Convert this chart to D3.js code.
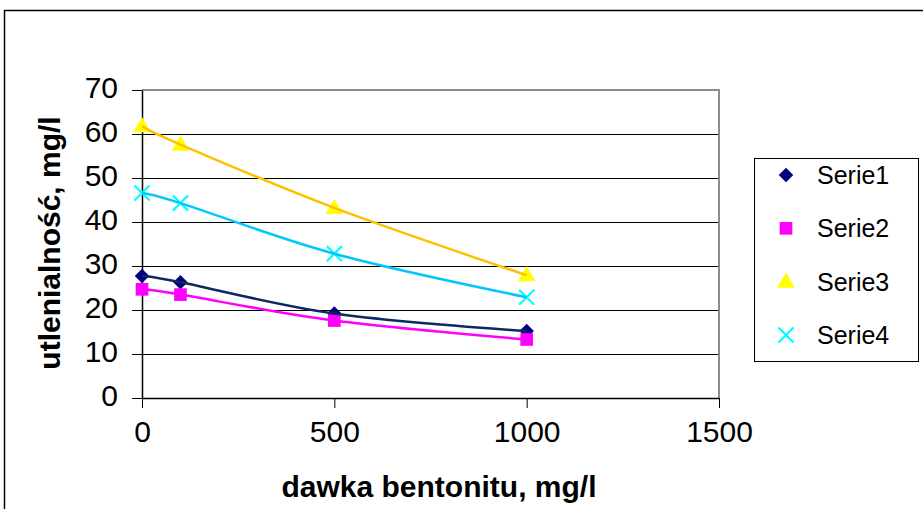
<!DOCTYPE html>
<html>
<head>
<meta charset="utf-8">
<script src="https://cdn.jsdelivr.net/npm/d3@7"></script>
<style>
  html, body { margin: 0; padding: 0; background: #fff; }
  svg { display: block; font-family: Arial, "Liberation Sans", sans-serif; }
</style>
</head>
<body>
<svg id="chart" width="923" height="509"></svg>
<script>
// Bentonite dose (mg/l) and measured oxidisability (mg/l) for four series
const doses = [0, 100, 500, 1000];
const serie1 = [27.7, 26.3, 19.2, 15.2];
const serie2 = [24.7, 23.5, 17.6, 13.3];
const serie3 = [61.8, 57.6, 43.2, 27.9];
const serie4 = [46.6, 44.3, 32.8, 22.9];
const seriesNames = ["Serie1", "Serie2", "Serie3", "Serie4"];
const xTicks = [0, 500, 1000, 1500];
const yTicks = [0, 10, 20, 30, 40, 50, 60, 70];
const xTitle = "dawka bentonitu, mg/l";
const yTitle = "utlenialność, mg/l";

const svg = d3.select("#chart");

// outer chart frame (runs off the right and bottom edges)
svg.append("rect")
  .attr("x", 4.5).attr("y", 10.5)
  .attr("width", 940).attr("height", 520)
  .attr("fill", "#fff").attr("stroke", "#000").attr("stroke-width", 1.5);

const x = d3.scaleLinear().domain([0, 1500]).range([142, 719]);
const y = d3.scaleLinear().domain([0, 70]).range([398, 90]);

// horizontal gridlines
svg.append("g").selectAll("line")
  .data(yTicks.filter(v => v > 0 && v < 70))
  .join("line")
  .attr("x1", x(0)).attr("x2", x(1500))
  .attr("y1", d => Math.round(y(d)) + 0.5).attr("y2", d => Math.round(y(d)) + 0.5)
  .attr("stroke", "#000").attr("stroke-width", 1);

// plot-area border (top and right)
svg.append("path")
  .attr("d", `M${x(0)},${y(70)}H${x(1500)}V${y(0)}`)
  .attr("fill", "none").attr("stroke", "#8c8c8c").attr("stroke-width", 2);

// y axis
const yAxis = svg.append("g")
  .attr("transform", `translate(${x(0)},0)`)
  .call(d3.axisLeft(y).tickValues(yTicks).tickFormat(d3.format("d"))
    .tickSize(10).tickSizeOuter(0).tickPadding(14));
yAxis.select(".domain").attr("stroke", "#000").attr("stroke-width", 1.5);
yAxis.selectAll(".tick line").attr("stroke", "#000");
yAxis.selectAll(".tick text")
  .attr("font-size", 30).attr("fill", "#000").attr("dy", "0.25em")
  .style("font-family", "Arial, 'Liberation Sans', sans-serif");

// x axis
const xAxis = svg.append("g")
  .attr("transform", `translate(0,${y(0)})`)
  .call(d3.axisBottom(x).tickValues(xTicks).tickFormat(d3.format("d"))
    .tickSize(10).tickSizeOuter(0).tickPadding(13));
xAxis.select(".domain").attr("stroke", "#000").attr("stroke-width", 1.5);
xAxis.selectAll(".tick line").attr("stroke", "#000");
xAxis.selectAll(".tick text")
  .attr("font-size", 30).attr("fill", "#000")
  .style("font-family", "Arial, 'Liberation Sans', sans-serif");

// axis titles
svg.append("text")
  .attr("x", 439).attr("y", 497)
  .attr("text-anchor", "middle")
  .attr("font-size", 30).attr("font-weight", "bold")
  .text(xTitle);

svg.append("text")
  .attr("transform", "translate(60,243) rotate(-90)")
  .attr("text-anchor", "middle")
  .attr("font-size", 30).attr("font-weight", "bold")
  .text(yTitle);

// series styling
const styles = [
  { values: serie1, marker: "#000080", line: "#0c2a60", shape: "diamond" },
  { values: serie2, marker: "#ff00ff", line: "#ff00ff", shape: "square" },
  { values: serie3, marker: "#ffff00", line: "#ffc000", shape: "triangle" },
  { values: serie4, marker: "#00ffff", line: "#00c8ff", shape: "cross" }
];

function drawMarker(g, shape, color) {
  if (shape === "diamond") {
    g.append("path").attr("d", d3.symbol(d3.symbolSquare, 105)())
      .attr("transform", "rotate(45)").attr("fill", color);
  } else if (shape === "square") {
    g.append("path").attr("d", d3.symbol(d3.symbolSquare, 160)()).attr("fill", color);
  } else if (shape === "triangle") {
    g.append("path").attr("d", d3.symbol(d3.symbolTriangle, 135)())
      .attr("transform", "translate(0,1)").attr("fill", color);
  } else {
    g.append("path").attr("d", d3.symbol(d3.symbolX, 150)())
      .attr("fill", "none").attr("stroke", color).attr("stroke-width", 2.2);
  }
}

// markers
styles.forEach(s => {
  const g = svg.append("g");
  s.values.forEach((v, i) => {
    const m = g.append("g").attr("transform", `translate(${x(doses[i])},${y(v)})`);
    drawMarker(m, s.shape, s.marker);
  });
});

// smoothed connecting lines
const line = d3.line()
  .x((d, i) => x(doses[i]))
  .y(d => y(d))
  .curve(d3.curveCardinal.tension(0));

styles.forEach(s => {
  svg.append("path")
    .attr("d", line(s.values))
    .attr("fill", "none")
    .attr("stroke", s.line)
    .attr("stroke-width", 2.5);
});

// legend
const legend = svg.append("g");
legend.append("rect")
  .attr("x", 754.5).attr("y", 158.5).attr("width", 164).attr("height", 203)
  .attr("fill", "#fff").attr("stroke", "#000").attr("stroke-width", 1);

const rowY = d3.scalePoint().domain(seriesNames).range([175, 335]);
seriesNames.forEach((name, i) => {
  const m = legend.append("g").attr("transform", `translate(786,${rowY(name)})`);
  drawMarker(m, styles[i].shape, styles[i].marker);
  legend.append("text")
    .attr("x", 817).attr("y", rowY(name) + 9)
    .attr("font-size", 25).attr("fill", "#000")
    .text(name);
});
</script>
</body>
</html>
